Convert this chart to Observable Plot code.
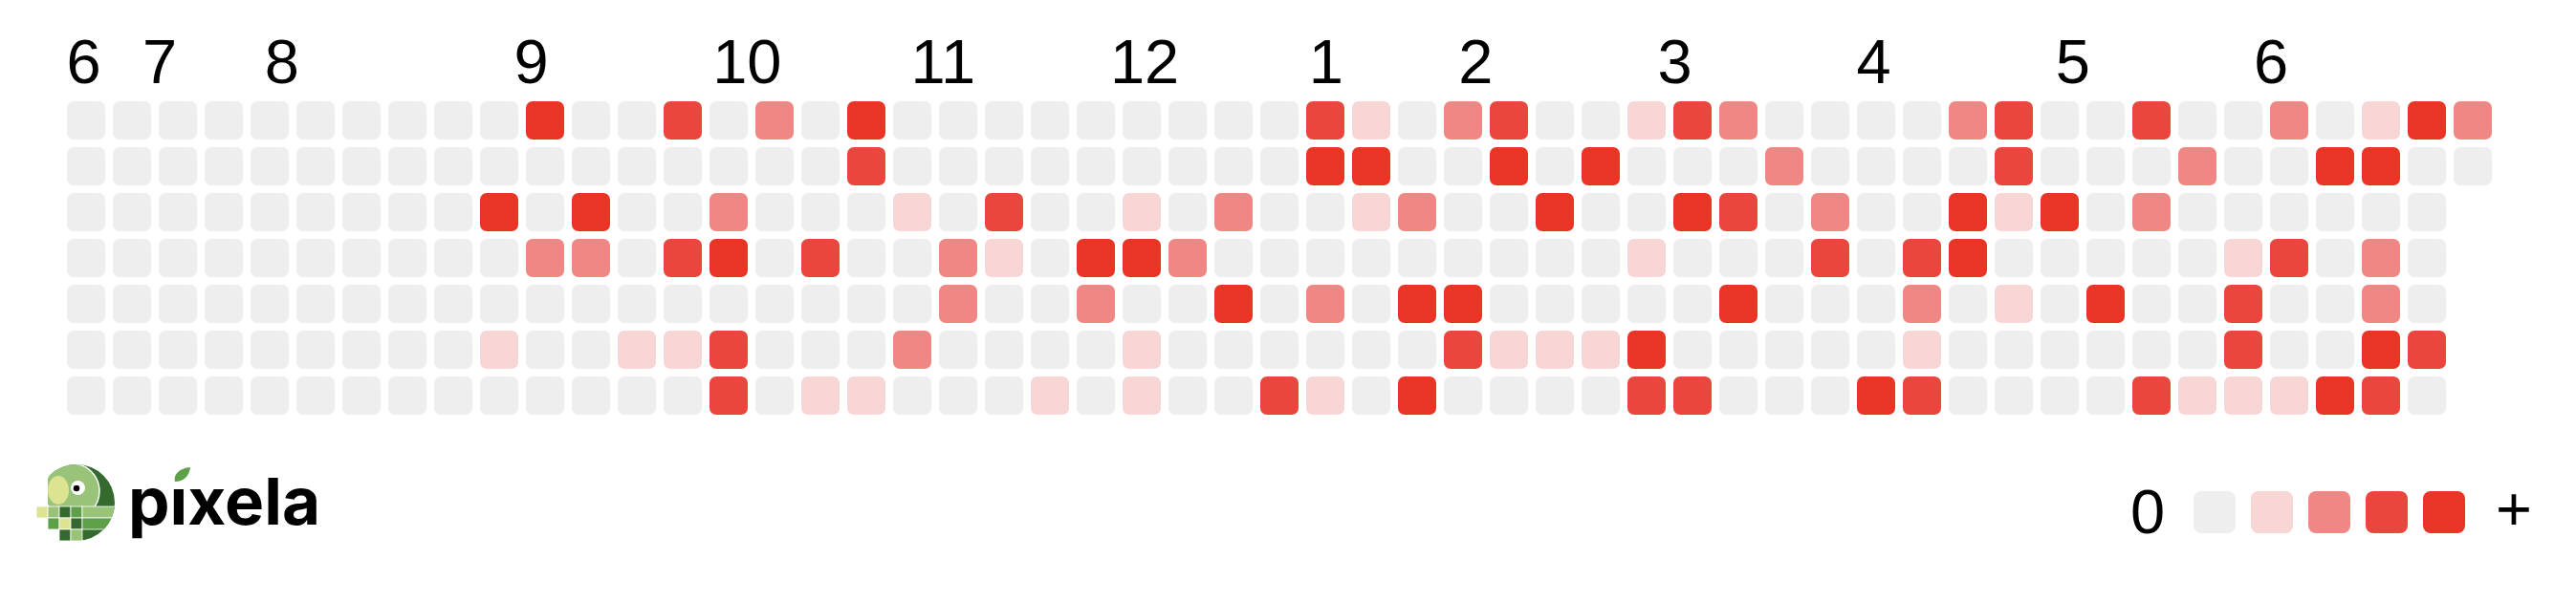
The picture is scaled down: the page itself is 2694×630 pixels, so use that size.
<!DOCTYPE html>
<html><head><meta charset="utf-8">
<script src="https://cdn.jsdelivr.net/npm/d3@7"></script>
<script src="https://cdn.jsdelivr.net/npm/@observablehq/plot@0.6"></script>
<style>
html,body{margin:0;padding:0;background:#fff;}
#chart svg{display:block;}
#below svg{display:block;}
</style></head><body>
<div id="chart"></div>
<div id="below" style="position:relative;width:2694px;height:170px;"></div>
<script>
// Activity level (0..4) per weekday row, one entry per week column
const row0 = [0,0,0,0,0,0,0,0,0,0, 4,0,0,3,0,2,0,4,0,0, 0,0,0,0,0,0,0,3,1,0, 2,3,0,0,1,3,2,0,0,0, 0,2,3,0,0,3,0,0,2,0, 1,4,2];
const row1 = [0,0,0,0,0,0,0,0,0,0, 0,0,0,0,0,0,0,3,0,0, 0,0,0,0,0,0,0,4,4,0, 0,4,0,4,0,0,0,2,0,0, 0,0,3,0,0,0,2,0,0,4, 4,0,0];
const row2 = [0,0,0,0,0,0,0,0,0,4, 0,4,0,0,2,0,0,0,1,0, 3,0,0,1,0,2,0,0,1,2, 0,0,4,0,0,4,3,0,2,0, 0,4,1,4,0,2,0,0,0,0, 0,0];
const row3 = [0,0,0,0,0,0,0,0,0,0, 2,2,0,3,4,0,3,0,0,2, 1,0,4,4,2,0,0,0,0,0, 0,0,0,0,1,0,0,0,3,0, 3,4,0,0,0,0,0,1,3,0, 2,0];
const row4 = [0,0,0,0,0,0,0,0,0,0, 0,0,0,0,0,0,0,0,0,2, 0,0,2,0,0,4,0,2,0,4, 4,0,0,0,0,0,4,0,0,0, 2,0,1,0,4,0,0,3,0,0, 2,0];
const row5 = [0,0,0,0,0,0,0,0,0,1, 0,0,1,1,3,0,0,0,2,0, 0,0,0,1,0,0,0,0,0,0, 3,1,1,1,4,0,0,0,0,0, 1,0,0,0,0,0,0,3,0,0, 4,3];
const row6 = [0,0,0,0,0,0,0,0,0,0, 0,0,0,0,3,0,1,1,0,0, 0,1,0,1,0,0,3,1,0,4, 0,0,0,0,3,3,0,0,0,4, 3,0,0,0,0,3,1,1,1,4, 3,0];
const rows = [row0, row1, row2, row3, row4, row5, row6];

// Month labels and their position in week units
const monthLabels = ["6","7","8","9","10","11","12","1","2","3","4","5","6"];
const monthWeeks = [0.06, 1.72, 4.38, 9.81, 14.14, 18.46, 22.80, 27.13, 30.39, 34.73, 39.06, 43.40, 47.72];

const levels = [0, 1, 2, 3, 4];
const levelColors = ["#eeeeee", "#f8d6d6", "#ef8885", "#e9473e", "#e93526"];

const cells = [];
rows.forEach((r, d) => r.forEach((level, w) => cells.push({w, d, level})));

const chart = Plot.plot({
  width: 2694,
  height: 460,
  marginLeft: 66, marginRight: 84, marginTop: 102, marginBottom: 22,
  style: {background: "#fff", fontFamily: "'Liberation Sans', Arial, sans-serif"},
  x: {type: "linear", domain: [0, 53], range: [66, 2610], axis: null},
  y: {type: "linear", domain: [0, 7], range: [102, 438], axis: null},
  color: {type: "ordinal", domain: levels, range: levelColors},
  marks: [
    Plot.rect(cells, {
      x1: "w", x2: d => d.w + 1, y1: "d", y2: d => d.d + 1,
      fill: "level", inset: 4, rx: 7, ry: 7
    }),
    Plot.text(monthLabels, {
      x: monthWeeks, text: d => d, frameAnchor: "top", dy: -16,
      lineAnchor: "bottom", textAnchor: "start", fontSize: 65, fill: "#000"
    })
  ]
});
document.getElementById("chart").appendChild(chart);

// Logo + legend below the chart
const below = d3.select("#below").append("svg")
  .attr("width", 2694).attr("height", 170)
  .style("font-family", "'Liberation Sans', Arial, sans-serif");
const g = below.append("g").attr("transform", "translate(0,-460)");

// --- pixela logo ---
const defs = below.append("defs");
defs.append("clipPath").attr("id", "circ").append("circle").attr("cx", 80).attr("cy", 526).attr("r", 40);
defs.append("clipPath").attr("id", "rightOf50").append("rect").attr("x", 50).attr("y", 470).attr("width", 100).attr("height", 120);
const logo = g.append("g");
const c1 = logo.append("g").attr("clip-path", "url(#rightOf50)");
c1.append("circle").attr("cx", 80).attr("cy", 526).attr("r", 40).attr("fill", "#356a2f");
c1.append("g").attr("clip-path", "url(#circ)")
  .append("circle").attr("cx", 75).attr("cy", 514).attr("r", 29).attr("fill", "#98c379").attr("stroke", "#fff").attr("stroke-width", 1.5);
c1.append("ellipse").attr("cx", 61).attr("cy", 513).attr("rx", 11).attr("ry", 15).attr("fill", "#dce491");
logo.append("rect").attr("x", 30).attr("y", 554).attr("width", 32).attr("height", 16).attr("fill", "#fff");
logo.append("circle").attr("cx", 81.5).attr("cy", 510.5).attr("r", 7.5).attr("fill", "#fff");
logo.append("circle").attr("cx", 80).attr("cy", 511).attr("r", 3.3).attr("fill", "#000");
const sq = [
  [38, 530, 12, "#dce491"], [50, 530, 12, "#98c379"], [62, 530, 12, "#356a2f"], [74, 530, 12, "#5e9f4a"],
  [50, 542, 12, "#5e9f4a"], [62, 542, 12, "#dce491"], [74, 542, 12, "#356a2f"],
  [62, 554, 12, "#356a2f"], [74, 554, 12, "#98c379"]
];
sq.forEach(([x, y, s, f]) => logo.append("rect").attr("x", x).attr("y", y).attr("width", s).attr("height", s).attr("fill", f).attr("stroke", "#fff").attr("stroke-width", 0.8));
const bars = logo.append("g").attr("clip-path", "url(#circ)");
bars.append("rect").attr("x", 86).attr("y", 530).attr("width", 40).attr("height", 12).attr("fill", "#98c379").attr("stroke", "#fff").attr("stroke-width", 0.8);
bars.append("rect").attr("x", 86).attr("y", 542).attr("width", 40).attr("height", 12).attr("fill", "#5e9f4a").attr("stroke", "#fff").attr("stroke-width", 0.8);
logo.append("text").attr("x", 134).attr("y", 549)
  .attr("font-family", "Inter, 'Noto Sans', sans-serif").attr("font-weight", 700).attr("font-size", 68)
  .attr("textLength", 201).attr("lengthAdjust", "spacingAndGlyphs")
  .attr("fill", "#000").text("p\u0131xela");
logo.append("path").attr("d", "M183,504 C181,496 188,490 199,489 C198,498 192,504 183,504 Z").attr("fill", "#5e9f4a");

// --- legend ---
g.append("text").attr("x", 2228).attr("y", 558).attr("font-size", 65).attr("fill", "#000").text("0");
levels.forEach((lv, i) => {
  g.append("rect").attr("x", 2294 + 60 * i).attr("y", 514).attr("width", 44).attr("height", 44)
    .attr("rx", 8).attr("fill", levelColors[i]);
});
g.append("text").attr("x", 2610).attr("y", 555).attr("font-size", 65).attr("fill", "#000").text("+");
</script>
</body></html>
